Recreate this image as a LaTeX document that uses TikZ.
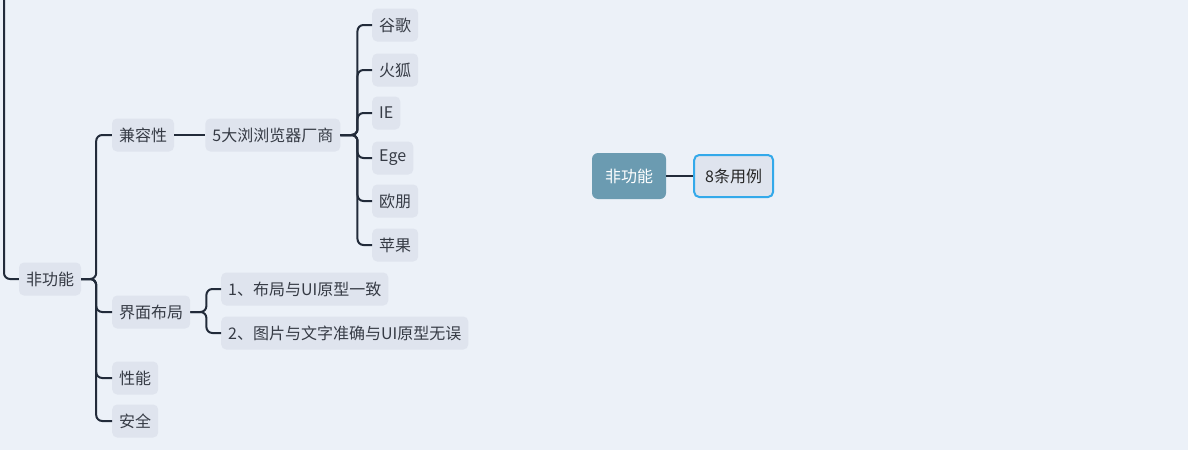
\documentclass[tikz,border=0pt]{standalone}
\usepackage{fontspec}
\setmainfont{Noto Sans CJK SC}
\usetikzlibrary{positioning}
\definecolor{bgcol}{HTML}{ECF1F8}
\definecolor{boxcol}{HTML}{DFE4EE}
\definecolor{linecol}{HTML}{222B3A}
\definecolor{txtcol}{HTML}{363B45}
\definecolor{rootcol}{HTML}{6B9BB1}
\definecolor{selcol}{HTML}{33A9EA}
\tikzset{
  topic/.style={fill=boxcol, text=txtcol, rounded corners=5pt,
    minimum height=33pt, inner xsep=7pt, inner ysep=0pt,
    font=\fontsize{16}{19}\selectfont},
  conn/.style={draw=linecol, line width=2pt, rounded corners=6pt},
}
\begin{document}
\begin{tikzpicture}[x=1pt, y=-1pt]
  \fill[bgcol] (0,0) rectangle (1188,450);
  \useasboundingbox (0,0) rectangle (1188,450);
  % left branch
  \node[topic] (fgn) at (50,279) {非功能};
  \node[topic] (jrx) at (143,135) {兼容性};
  \node[topic, right=31pt of jrx] (llq) {5大浏浏览器厂商};
  \node[topic, anchor=west] (gg) at (372,25) {谷歌};
  \node[topic, anchor=west] (hh) at (372,70) {火狐};
  \node[topic, anchor=west] (ie) at (372,113) {IE};
  \node[topic, anchor=west] (ege) at (372,158) {Ege};
  \node[topic, anchor=west] (op) at (372,201) {欧朋};
  \node[topic, anchor=west] (pg) at (372,245) {苹果};
  \node[topic, anchor=west] (jmbj) at (112,312) {界面布局};
  \node[topic, anchor=west] (yz) at (221,289) {1、布局与UI原型一致};
  \node[topic, anchor=west] (wu) at (221,333) {2、图片与文字准确与UI原型无误};
  \node[topic, anchor=west] (xn) at (112,378) {性能};
  \node[topic, anchor=west] (aq) at (112,421) {安全};
  \coordinate (up) at (4,0);
  \draw[conn] (up) |- (fgn.west);
  \foreach \n in {jrx,jmbj,xn,aq}
    \draw[conn] (fgn.east) -- ++(15,0) |- (\n.west);
  \draw[conn] (jrx) -- (llq);
  \foreach \n in {gg,hh,ie,ege,op,pg}
    \draw[conn] (llq.east) -- ++(17,0) |- (\n.west);
  \foreach \n in {yz,wu}
    \draw[conn] (jmbj.east) -- ++(16,0) |- (\n.west);
  % centre topic
  \node[topic, fill=rootcol, text=white, rounded corners=6pt,
    minimum height=46pt, inner xsep=13pt] (cfg) at (629,176) {非功能};
  \node[topic, draw=selcol, line width=2pt, text=black!85,
    minimum height=42pt, inner xsep=11pt, right=27pt of cfg] (ty) {8条用例};
  \draw[conn] (cfg) -- (ty);
\end{tikzpicture}
\end{document}
